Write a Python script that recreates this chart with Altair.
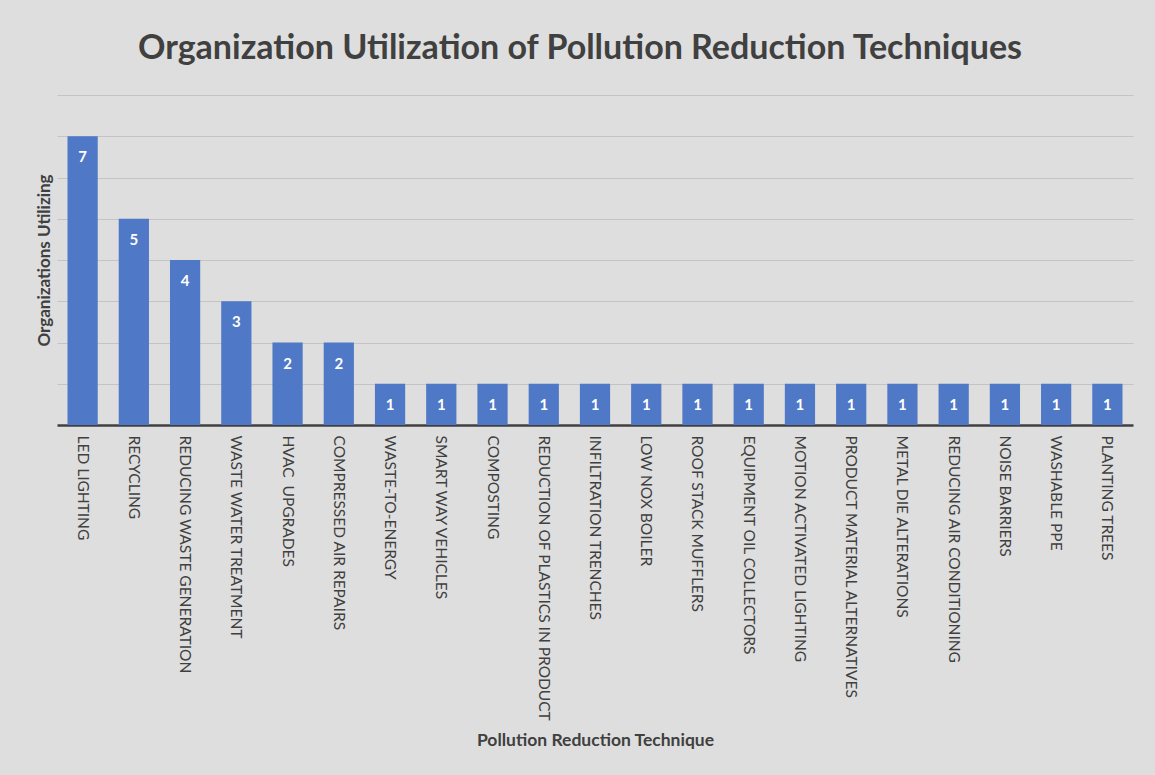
import altair as alt
import pandas as pd

techniques = [
    "LED LIGHTING", "RECYCLING", "REDUCING WASTE GENERATION", "WASTE WATER TREATMENT",
    "HVAC\u00a0 UPGRADES", "COMPRESSED AIR REPAIRS", "WASTE-TO-ENERGY", "SMART WAY VEHICLES",
    "COMPOSTING", "REDUCTION OF PLASTICS IN PRODUCT", "INFILTRATION TRENCHES",
    "LOW NOX BOILER", "ROOF STACK MUFFLERS", "EQUIPMENT OIL COLLECTORS",
    "MOTION ACTIVATED LIGHTING", "PRODUCT MATERIAL ALTERNATIVES", "METAL DIE ALTERATIONS",
    "REDUCING AIR CONDITIONING", "NOISE BARRIERS", "WASHABLE PPE", "PLANTING TREES",
]
counts = [7, 5, 4, 3, 2, 2, 1, 1, 1, 1, 1, 1, 1, 1, 1, 1, 1, 1, 1, 1, 1]
y_ticks = [0, 1, 2, 3, 4, 5, 6, 7, 8]

df = pd.DataFrame({"technique": techniques, "count": counts})

FONT = "Lato"

x_enc = alt.X(
    "technique:N",
    sort=None,
    scale=alt.Scale(paddingInner=0.41, paddingOuter=0.205),
    axis=alt.Axis(
        title="Pollution Reduction Technique",
        titleFont=FONT, titleFontSize=17.5, titleFontWeight="bold", titleColor="#404040",
        titleY=315, titleBaseline="middle",
        labelAngle=90, labelFont=FONT, labelFontSize=15.5, labelColor="#404040",
        labelPadding=10, labelLimit=400,
        ticks=False, domain=True, domainColor="#404040", domainWidth=2.5,
        grid=False,
    ),
)

bars = alt.Chart(df).mark_bar(color="#4f78c6").encode(
    x=x_enc,
    y=alt.Y(
        "count:Q",
        scale=alt.Scale(domain=[0, 8], nice=False),
        axis=alt.Axis(
            title="Organizations Utilizing",
            titleFont=FONT, titleFontSize=17, titleFontWeight="bold", titleColor="#404040",
            titlePadding=4,
            values=y_ticks, labels=False, ticks=False, domain=False,
            grid=True, gridColor="#c4c4c4", gridWidth=1,
        ),
    ),
)

labels = alt.Chart(df).mark_text(
    color="white", font=FONT, fontSize=15, fontWeight="bold", baseline="top", dy=14
).encode(
    x=alt.X("technique:N", sort=None),
    y=alt.Y("count:Q"),
    text=alt.Text("count:Q"),
)

chart = (
    alt.layer(bars, labels)
    .properties(
        width=1076,
        height=330,
        title=alt.TitleParams(
            "Organization Utilization of Pollution Reduction Techniques",
            font=FONT, fontSize=34, fontWeight="bold", color="#404040",
            anchor="middle", offset=29, dx=-15,
        ),
        autosize=alt.AutoSizeParams(type="none"),
        padding={"left": 57, "top": 95, "right": 22, "bottom": 350},
        background="#dedede",
    )
    .configure_view(stroke=None)
)

chart.save("out.html", embed_options={"renderer": "svg", "actions": False})
